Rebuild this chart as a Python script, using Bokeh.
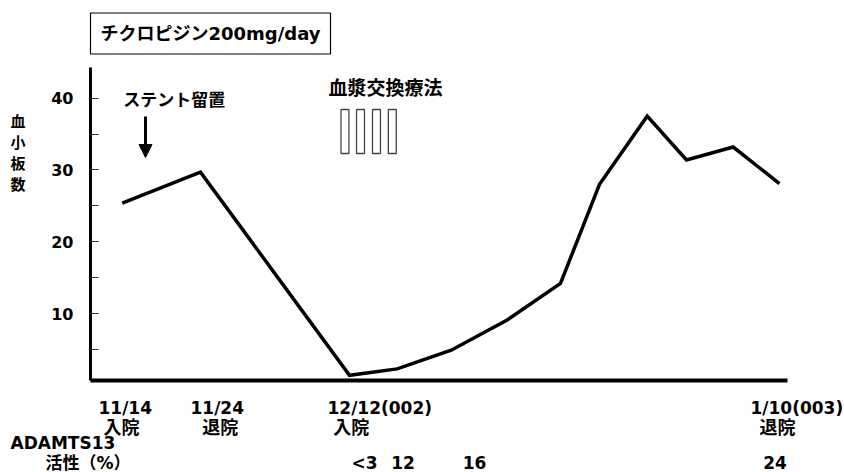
from bokeh.plotting import figure
from bokeh.models import Label, Arrow, NormalHead, FixedTicker, Range1d, GridBox
from bokeh.embed import file_html
from bokeh.resources import INLINE

# ---------------- data ----------------
# horizontal position of each measurement along the (broken) time axis, axis units 0-100
x_pos = [4.55, 15.78, 37.16, 44.0, 51.75, 59.78, 67.43, 73.03, 79.87, 85.51, 92.21, 98.85]
platelets = [25.4, 29.7, 1.4, 2.3, 4.9, 9.1, 14.2, 28.0, 37.5, 31.4, 33.2, 28.1]
y_ticks = [10, 20, 30, 40]
y_minor_ticks = [5, 15, 25, 35]
date_labels = ["11/14", "11/24", "12/12(002)", "1/10(003)"]
event_labels = ["入院", "退院", "入院", "退院"]
adamts_values = ["<3", "12", "16", "24"]
pe_sessions = [36.51, 38.74, 41.03, 43.3]   # plasma exchange sessions (axis units)

# ---------------- layout ----------------
W, H = 844, 472
ML, MR, MT, MB = 90, 57, 67, 92
X0, X1 = 0, 100
Y0 = 0.68
PXU = 7.18                      # pixels per platelet unit
Y1 = Y0 + (H - MT - MB) / PXU
XPU = (W - ML - MR) / (X1 - X0)

FONT = "DejaVu Sans, Noto Sans CJK JP"


def dx(px):
    """picture x (pixels) -> data x"""
    return X0 + (px - ML) / XPU


def dy(py):
    """picture y (pixels) -> data y"""
    return Y0 + (H - MB - py) / PXU


# ---------- main plot: axes and data marks ----------
p = figure(width=W, height=H, output_backend="svg", toolbar_location=None,
           x_range=Range1d(X0, X1), y_range=Range1d(Y0, Y1),
           min_border_left=ML, min_border_right=MR,
           min_border_top=MT, min_border_bottom=MB)
p.grid.visible = False
p.outline_line_color = None
p.background_fill_color = "white"
p.border_fill_color = "white"

yax = p.yaxis[0]
yax.ticker = FixedTicker(ticks=y_ticks, minor_ticks=y_minor_ticks)
yax.axis_line_width = 3
yax.axis_line_color = "black"
yax.major_tick_in = 8
yax.major_tick_out = 0
yax.minor_tick_in = 8
yax.minor_tick_out = 0
yax.major_tick_line_color = "#333333"
yax.minor_tick_line_color = "#333333"
yax.major_label_text_font = FONT
yax.major_label_text_font_style = "bold"
yax.major_label_text_font_size = "16px"
yax.major_label_text_color = "black"
yax.major_label_standoff = 17

xax = p.xaxis[0]
xax.ticker = FixedTicker(ticks=[])
xax.axis_line_width = 4
xax.axis_line_color = "black"
xax.major_tick_in = 0
xax.major_tick_out = 0
xax.minor_tick_in = 0
xax.minor_tick_out = 0
xax.major_label_text_font_size = "0px"

p.line(x_pos, platelets, line_color="black", line_width=3.5, line_join="miter")

half_w = 0.57
p.quad(left=[x - half_w for x in pe_sessions], right=[x + half_w for x in pe_sessions],
       top=dy(109), bottom=dy(153), fill_color="white", line_color="#444444", line_width=1.3)

p.add_layout(Arrow(end=NormalHead(size=13, fill_color="black", line_color="black"),
                   x_start=dx(145), y_start=dy(116), x_end=dx(145), y_end=dy(157),
                   line_width=3, line_color="black"))

# ---------- text layer: same data space, frame over the whole canvas ----------
t = figure(width=W, height=H, output_backend="svg", toolbar_location=None,
           x_range=Range1d(dx(0), dx(W)), y_range=Range1d(dy(H), dy(0)),
           x_axis_type=None, y_axis_type=None,
           min_border_left=0, min_border_right=0, min_border_top=0, min_border_bottom=0)
t.grid.visible = False
t.outline_line_color = None
t.background_fill_color = None
t.border_fill_color = None


def add_text(text, px, py, size="17px", align="left", baseline="middle", **kw):
    lab = Label(x=dx(px), y=dy(py), text=text, text_font=FONT, text_font_size=size,
                text_font_style="bold", text_color="black",
                text_align=align, text_baseline=baseline, **kw)
    t.add_layout(lab)
    return lab


add_text("チクロピジン200mg/day", 90, 33, size="18px",
         border_line_color="black", border_line_width=1.2,
         background_fill_color="white", padding=10)

add_text("ステント留置", 122.7, 99)
add_text("血漿交換療法", 328, 87, size="19px")
add_text("血\n小\n板\n数", 10, 153, size="15px", text_line_height=1.17)

date_left = [98, 190, 327, 750]
event_left = [103, 201.7, 332.7, 759]
for s, lx in zip(date_labels, date_left):
    add_text(s, lx, 407.5)
for s, lx in zip(event_labels, event_left):
    add_text(s, lx, 426.5, size="18px")

add_text("ADAMTS13", 10, 442)
add_text("活性（%）", 45, 462)
val_center = [364, 402.5, 474, 774.5]
for s, cx in zip(adamts_values, val_center):
    add_text(s, cx, 462, align="center")

# the text layer spans the whole grid so that its frame is not aligned with the main plot's
page = GridBox(children=[(p, 1, 1), (t, 0, 0, 3, 3)])

open("out.html", "w").write(file_html(page, INLINE))
